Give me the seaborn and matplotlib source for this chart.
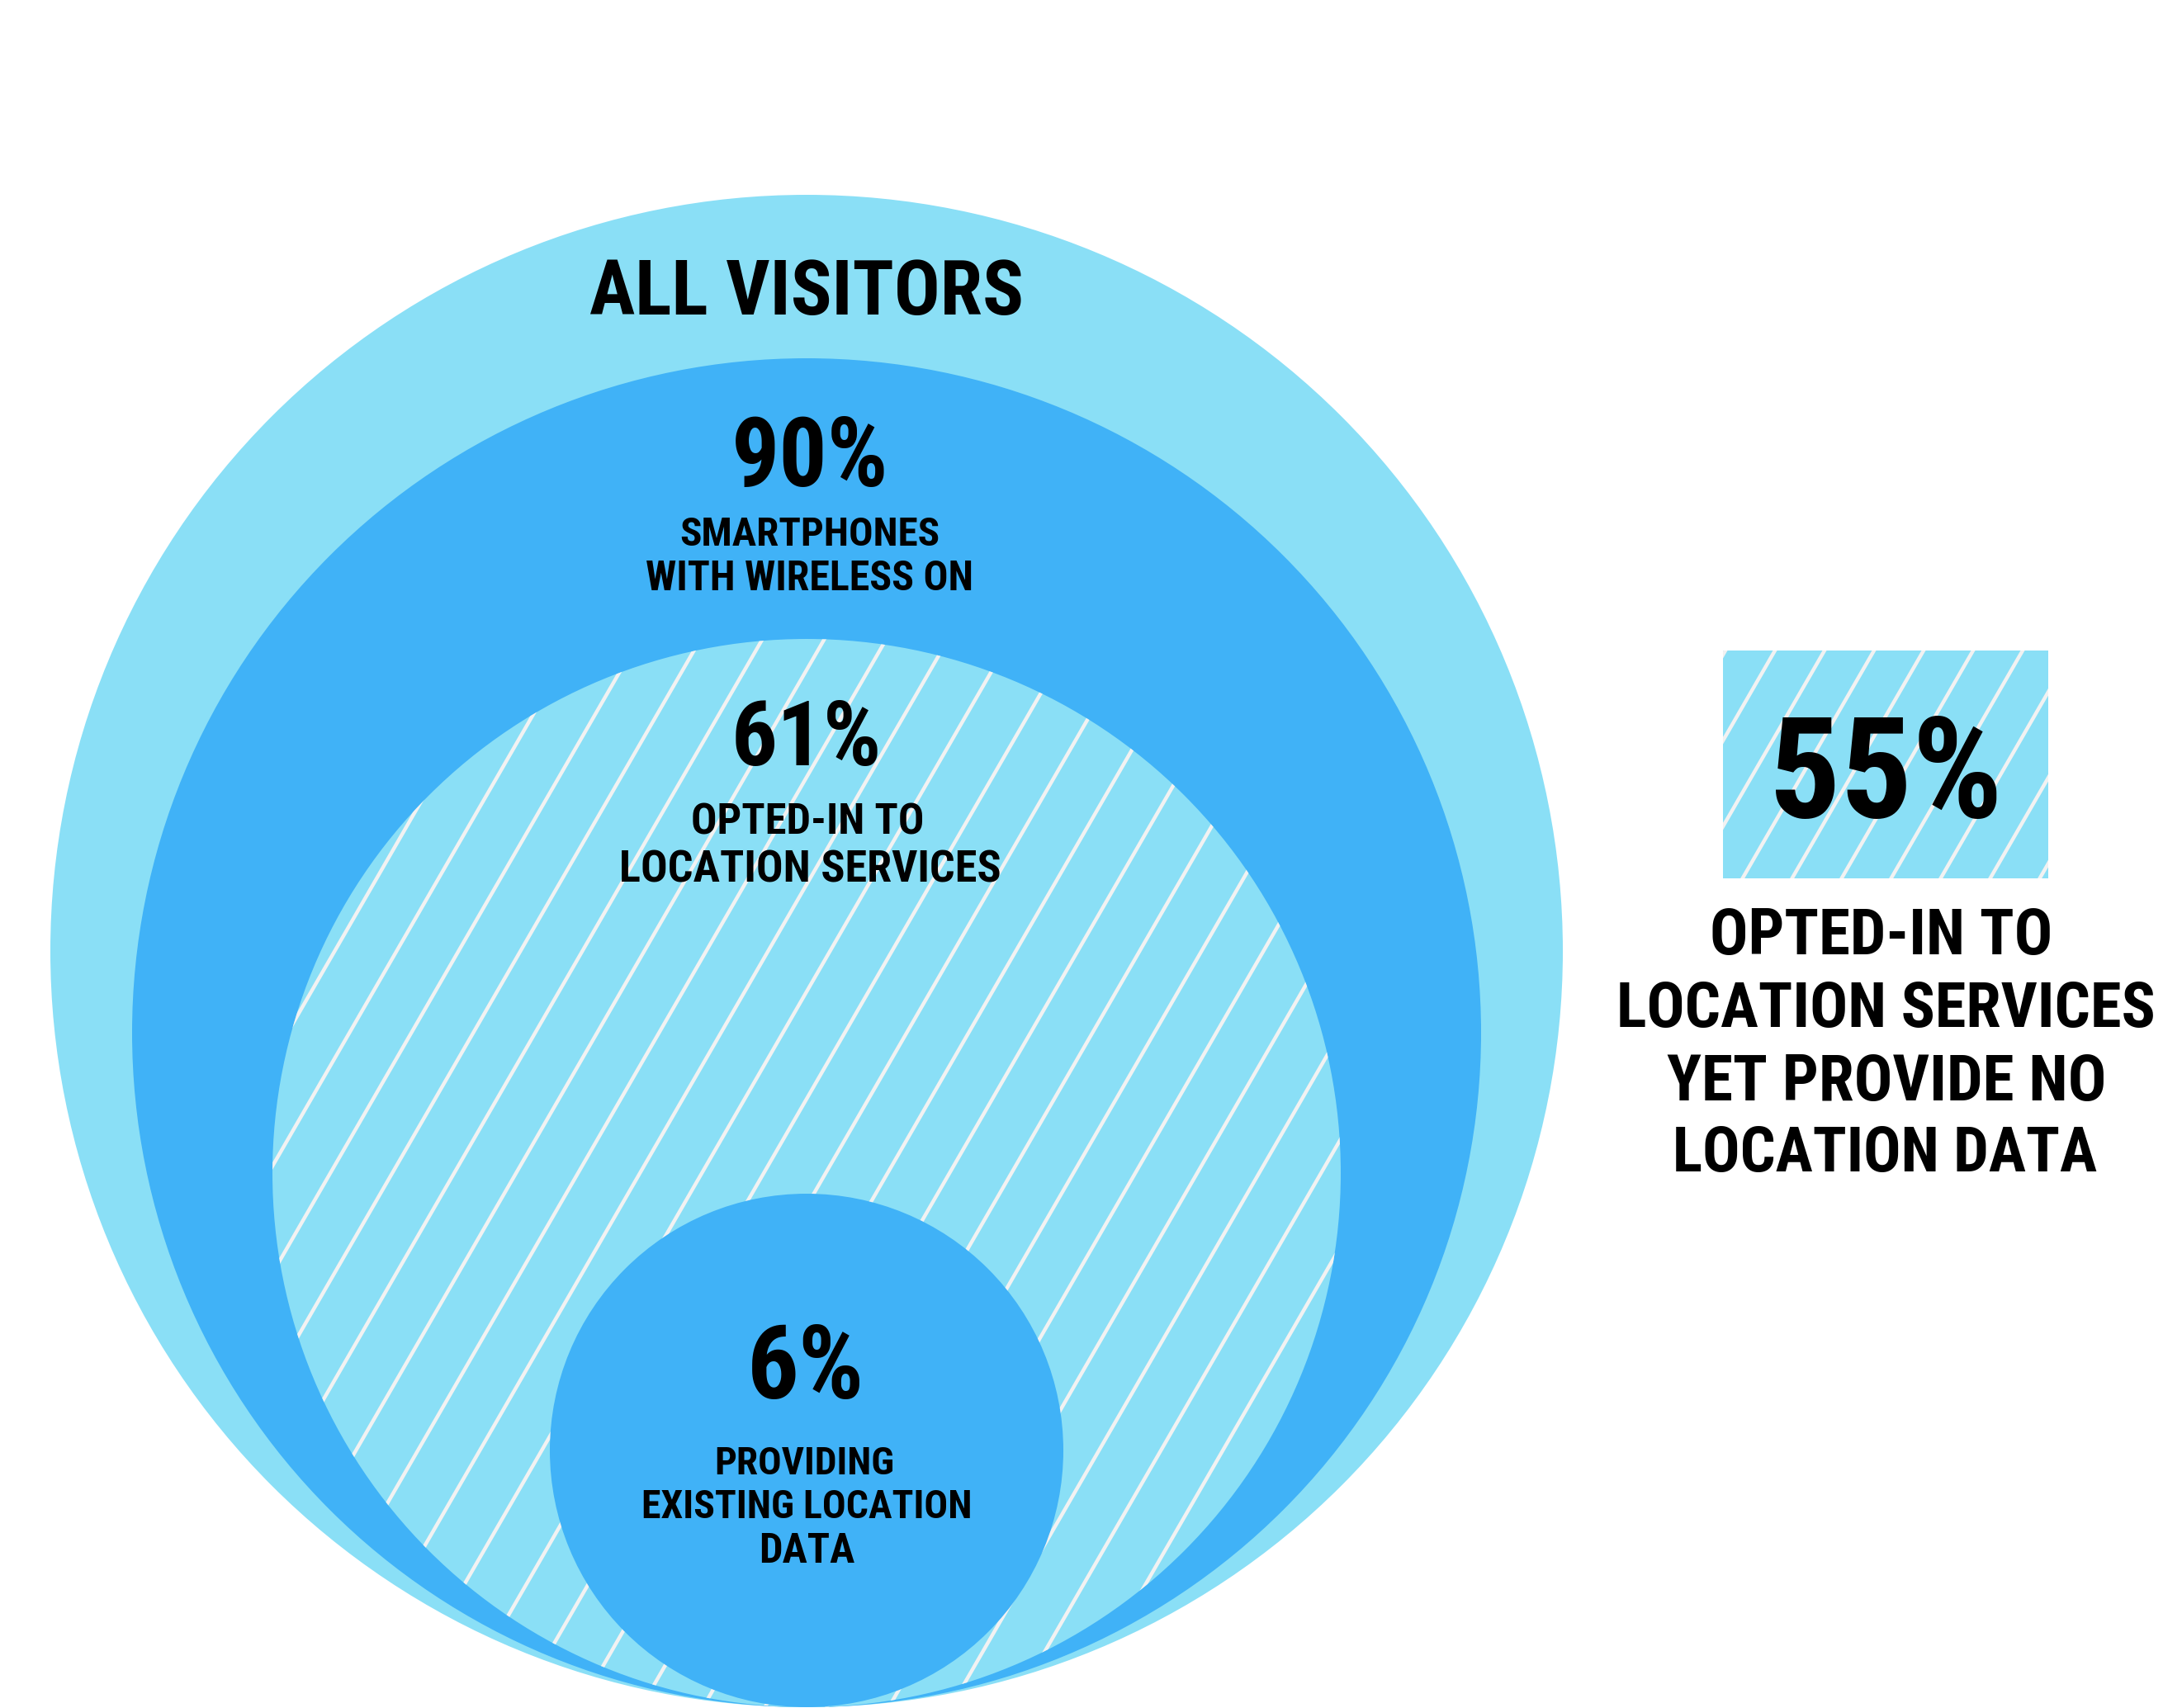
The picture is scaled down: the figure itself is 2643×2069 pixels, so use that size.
import numpy as np
import matplotlib
matplotlib.use('Agg')
import matplotlib.pyplot as plt
from matplotlib import font_manager
from matplotlib.patches import Circle, Rectangle
import seaborn as sns

# data: share of visitors in each nested group
shares = [100, 90, 61, 6]
share_text = ['', '90%', '61%', '6%']
group_lines = [
    ['ALL VISITORS'],
    ['SMARTPHONES', 'WITH WIRELESS ON'],
    ['OPTED-IN TO', 'LOCATION SERVICES'],
    ['PROVIDING', 'EXISTING LOCATION', 'DATA'],
]
gap_share = shares[2] - shares[3]  # 55
gap_lines = ['OPTED-IN TO', 'LOCATION SERVICES', 'YET PROVIDE NO', 'LOCATION DATA']

# layout (pixels)
W, H = 2643, 2069
cx, bottom = 977, 2068
radius = [916, 817, 647, 311]
light, dark, hatch_col = '#8ADFF6', '#40B2F7', '#F2F2F2'
fills = [light, dark, light, dark]

sns.set_theme(style='white')
names = {f.name for f in font_manager.fontManager.ttflist}
font = 'DejaVu Sans'
for cand in ['Liberation Sans Narrow', 'Roboto Condensed', 'Open Sans Condensed', 'DejaVu Sans']:
    if cand in names:
        font = cand
        break
plt.rcParams['font.family'] = [font, 'DejaVu Sans']

fig = plt.figure(figsize=(W / 100, H / 100), dpi=100)
ax = fig.add_axes([0, 0, 1, 1])
ax.set_xlim(0, W)
ax.set_ylim(H, 0)
ax.axis('off')

circles = []
for r, c in zip(radius, fills):
    p = Circle((cx, bottom - r), r, facecolor=c, edgecolor='none', zorder=1)
    ax.add_patch(p)
    circles.append(p)


def hatch(patch, x_ref, y_ref, step, y0, y1, z):
    slope = np.tan(np.radians(30))
    for k in range(-40, 40):
        xa = x_ref + k * step
        xs = [xa + slope * (y_ref - y0), xa + slope * (y_ref - y1)]
        ln, = ax.plot(xs, [y0, y1], color=hatch_col, lw=3.2, zorder=z,
                      solid_capstyle='butt')
        ln.set_clip_path(patch)


# hatched ring for opted-in group (drawn under the smallest circle)
circles[2].set_zorder(2)
hatch(circles[2], 470, 1300, 75, 0, H, 2.5)
circles[3].set_zorder(3)

# callout box
box = Rectangle((2087, 788), 394, 276, facecolor=light, edgecolor='none', zorder=2)
ax.add_patch(box)
hatch(box, 2090, 788, 60, 700, 1150, 2.5)

renderer = fig.canvas.get_renderer()


def fit_text(x, y_bot, s, width, cap):
    t = ax.text(x, y_bot, s, ha='center', va='baseline', fontsize=50,
                fontweight='bold', color='black', zorder=5)
    w = t.get_window_extent(renderer).width
    fs_w = 50 * width / w
    fs_h = cap / (0.72 * 100 / 72)
    fs = min(fs_w * 1.03, fs_h)
    t.set_fontsize(fs)
    # keep the caps centred where the reference caps sit
    cap_now = fs * 0.72 * 100 / 72
    t.set_y(y_bot - cap / 2 + cap_now / 2)
    return t


# (x center, baseline, width, cap height)
fit_text(977, 393, group_lines[0][0], 511, 90)

fit_text(981, 598, share_text[1], 185, 101)
fit_text(981, 664, group_lines[1][0], 307, 42)
fit_text(981, 718, group_lines[1][1], 386, 42)

fit_text(977, 937, share_text[2], 177, 99)
fit_text(978, 1018, group_lines[2][0], 275, 52)
fit_text(981, 1075, group_lines[2][1], 450, 52)

fit_text(976, 1697, share_text[3], 138, 96)
fit_text(974, 1790, group_lines[3][0], 212, 42)
fit_text(977, 1844, group_lines[3][1], 389, 44)
fit_text(977, 1896, group_lines[3][2], 113, 42)

fit_text(2284, 1003, f'{gap_share}%', 275, 149)
right_pos = [(2279, 1160, 404), (2284, 1249, 634), (2285, 1337, 518), (2283, 1424, 500)]
for s, (x, y, w) in zip(gap_lines, right_pos):
    fit_text(x, y, s, w, 64)

fig.savefig('out.png', dpi=100, facecolor='white')
